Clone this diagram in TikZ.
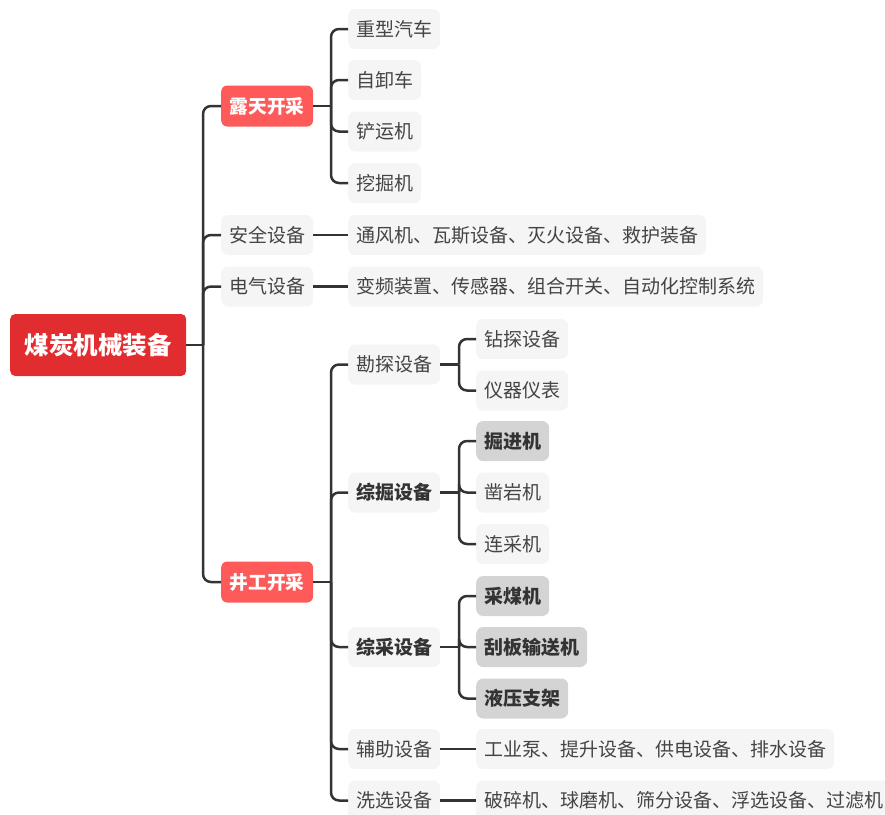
\documentclass[tikz,border=0pt]{standalone}
\usepackage{fontspec}
\setmainfont{Noto Sans CJK SC}
\definecolor{lc}{HTML}{333333}
\definecolor{rootred}{HTML}{E22D30}
\definecolor{subred}{HTML}{FF5A5A}
\definecolor{lightbg}{HTML}{F5F5F5}
\definecolor{boldbg}{HTML}{D4D4D4}
\definecolor{txt}{HTML}{444444}
\definecolor{txtd}{HTML}{333333}
\begin{document}
\begin{tikzpicture}[x=1pt,y=-1pt,
  conn/.style={draw=lc, line width=2.5pt, rounded corners=8pt},
  rootbox/.style={fill=rootred, text=white, font=\fontsize{24.5}{28}\selectfont\bfseries, rounded corners=5pt, minimum height=62pt, inner xsep=14.5pt, inner ysep=0pt, anchor=west},
  redbox/.style={fill=subred, text=white, font=\fontsize{18.7}{22}\selectfont\bfseries, rounded corners=6pt, minimum height=41pt, inner xsep=8.5pt, inner ysep=0pt, anchor=west},
  graybox/.style={fill=lightbg, text=txt, font=\fontsize{19}{22}\selectfont, rounded corners=7pt, minimum height=40pt, inner xsep=8pt, inner ysep=0pt, anchor=west},
  boldtxt/.style={graybox, text=txtd, font=\fontsize{19}{22}\selectfont\bfseries},
  boldbox/.style={graybox, fill=boldbg, text=txtd, font=\fontsize{19}{22}\selectfont\bfseries}
]
\useasboundingbox (0,0) rectangle (885,814);

% root
\node[rootbox] (root) at (10,345) {煤炭机械装备};

% level 1
\node[redbox]  (lt) at (221,106) {露天开采};
\node[graybox] (aq) at (221,235) {安全设备};
\node[graybox] (dq) at (221,286.5) {电气设备};
\node[redbox]  (jg) at (221,582) {井工开采};

% 露天开采 children
\node[graybox] (lt1) at (348,29) {重型汽车};
\node[graybox] (lt2) at (348,80) {自卸车};
\node[graybox] (lt3) at (348,131.5) {铲运机};
\node[graybox] (lt4) at (348,183) {挖掘机};

% 安全 / 电气 leaves
\node[graybox] (aq1) at (348,235) {通风机、瓦斯设备、灭火设备、救护装备};
\node[graybox] (dq1) at (348,286.5) {变频装置、传感器、组合开关、自动化控制系统};

% 井工开采 children
\node[graybox] (kt) at (348,364.5) {勘探设备};
\node[boldtxt] (zj) at (348,492.5) {综掘设备};
\node[boldtxt] (zc) at (348,647) {综采设备};
\node[graybox] (fz) at (348,749) {辅助设备};
\node[graybox] (xx) at (348,800.5) {洗选设备};

% level 3
\node[graybox] (kt1) at (476,339) {钻探设备};
\node[graybox] (kt2) at (476,390.5) {仪器仪表};
\node[boldbox] (zj1) at (476,441) {掘进机};
\node[graybox] (zj2) at (476,492.5) {凿岩机};
\node[graybox] (zj3) at (476,544) {连采机};
\node[boldbox] (zc1) at (476,596) {采煤机};
\node[boldbox] (zc2) at (476,647) {刮板输送机};
\node[boldbox] (zc3) at (476,698.5) {液压支架};
\node[graybox] (fz1) at (476,749) {工业泵、提升设备、供电设备、排水设备};
\node[graybox] (xx1) at (476,800.5) {破碎机、球磨机、筛分设备、浮选设备、过滤机};

% fork points
\coordinate (f0) at (203,345);
\coordinate (f1) at (331,106);
\coordinate (f2) at (331,582);
\coordinate (f3) at (459,364.5);
\coordinate (f4) at (459,492.5);
\coordinate (f5) at (459,647);

% root connectors
\draw[conn] (root.east) -- (f0);
\foreach \c in {lt,aq,dq,jg} \draw[conn] (f0) |- (\c.west);

% 露天开采
\draw[conn] (lt.east) -- (f1);
\foreach \c in {lt1,lt2,lt3,lt4} \draw[conn] (f1) |- (\c.west);

% straight
\draw[conn] (aq.east) -- (aq1.west);
\draw[conn] (dq.east) -- (dq1.west);

% 井工开采
\draw[conn] (jg.east) -- (f2);
\foreach \c in {kt,zj,zc,fz,xx} \draw[conn] (f2) |- (\c.west);

% 勘探
\draw[conn] (kt.east) -- (f3);
\foreach \c in {kt1,kt2} \draw[conn] (f3) |- (\c.west);

% 综掘
\draw[conn] (zj.east) -- (f4);
\foreach \c in {zj1,zj2,zj3} \draw[conn] (f4) |- (\c.west);

% 综采
\draw[conn] (zc.east) -- (f5);
\foreach \c in {zc1,zc2,zc3} \draw[conn] (f5) |- (\c.west);

\draw[conn] (fz.east) -- (fz1.west);
\draw[conn] (xx.east) -- (xx1.west);
\end{tikzpicture}
\end{document}
